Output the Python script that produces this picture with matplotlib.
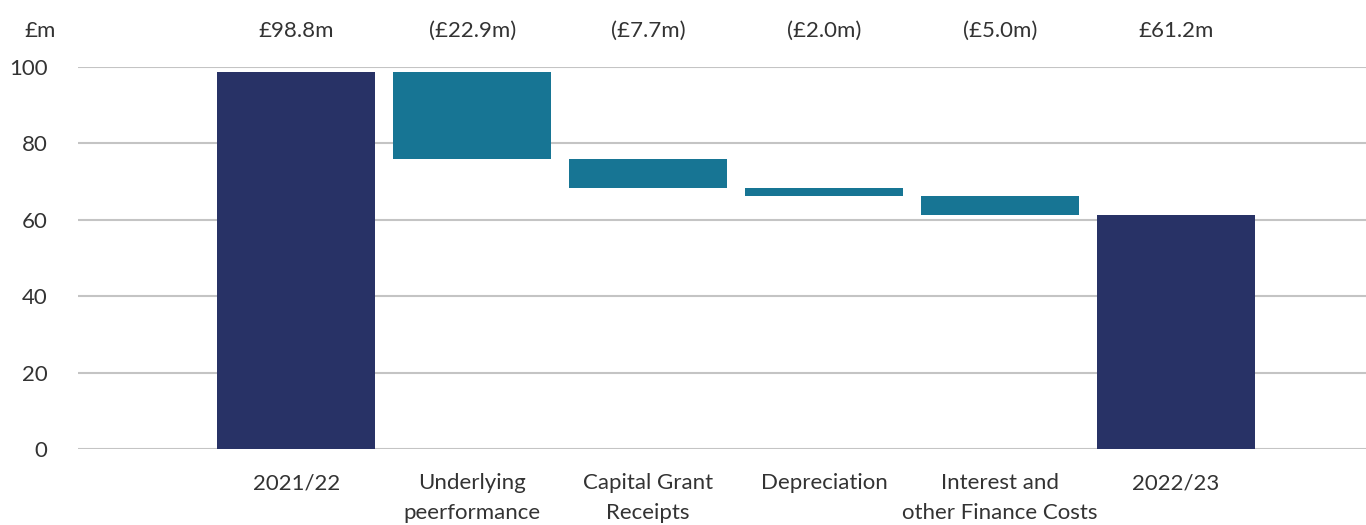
import matplotlib.pyplot as plt
import numpy as np

plt.rcParams["font.family"] = ["Lato", "DejaVu Sans"]

categories = ["2021/22", "Underlying\npeerformance", "Capital Grant\nReceipts",
              "Depreciation", "Interest and\nother Finance Costs", "2022/23"]
changes = [98.8, -22.9, -7.7, -2.0, -5.0, 61.2]
is_total = [True, False, False, False, False, True]
value_labels = ["£98.8m", "(£22.9m)", "(£7.7m)", "(£2.0m)", "(£5.0m)", "£61.2m"]
yticks = [0, 20, 40, 60, 80, 100]

NAVY = "#283266"
TEAL = "#177594"
TEXT = "#333333"

fig = plt.figure(figsize=(13.66, 5.25), dpi=100)
ax = fig.add_axes([78 / 1366, 76 / 525, 1 - 78 / 1366, 382 / 525])

# waterfall bottoms/heights
running = 0.0
bottoms, heights, colors = [], [], []
for val, tot in zip(changes, is_total):
    if tot:
        bottoms.append(0.0)
        heights.append(val)
        running = val
        colors.append(NAVY)
    else:
        bottoms.append(running + val)
        heights.append(-val)
        running += val
        colors.append(TEAL)

xs = np.arange(len(categories))
ax.bar(xs, heights, bottom=bottoms, width=0.9, color=colors, zorder=3)

ax.set_xlim(-1.24, 6.08)
ax.set_ylim(0, 100)
ax.set_yticks(yticks)
ax.set_yticklabels([str(t) for t in yticks], fontsize=16, color=TEXT)
ax.tick_params(axis="y", length=0, pad=22)
ax.set_xticks([])
ax.grid(axis="y", color="#c4c4c4", linewidth=1.5, zorder=0)
for spine in ax.spines.values():
    spine.set_visible(False)

for x, cat, lab in zip(xs, categories, value_labels):
    ax.text(x, -6.4, cat, ha="center", va="top", fontsize=16, color=TEXT,
            linespacing=1.6, clip_on=False)
    ax.text(x, 109.4, lab, ha="center", va="center", fontsize=16, color=TEXT,
            clip_on=False)

fig.text(40 / 1366, 1 - 31 / 525, "£m", ha="center", va="center", fontsize=16,
         color=TEXT)

fig.savefig("out.png", dpi=100)
